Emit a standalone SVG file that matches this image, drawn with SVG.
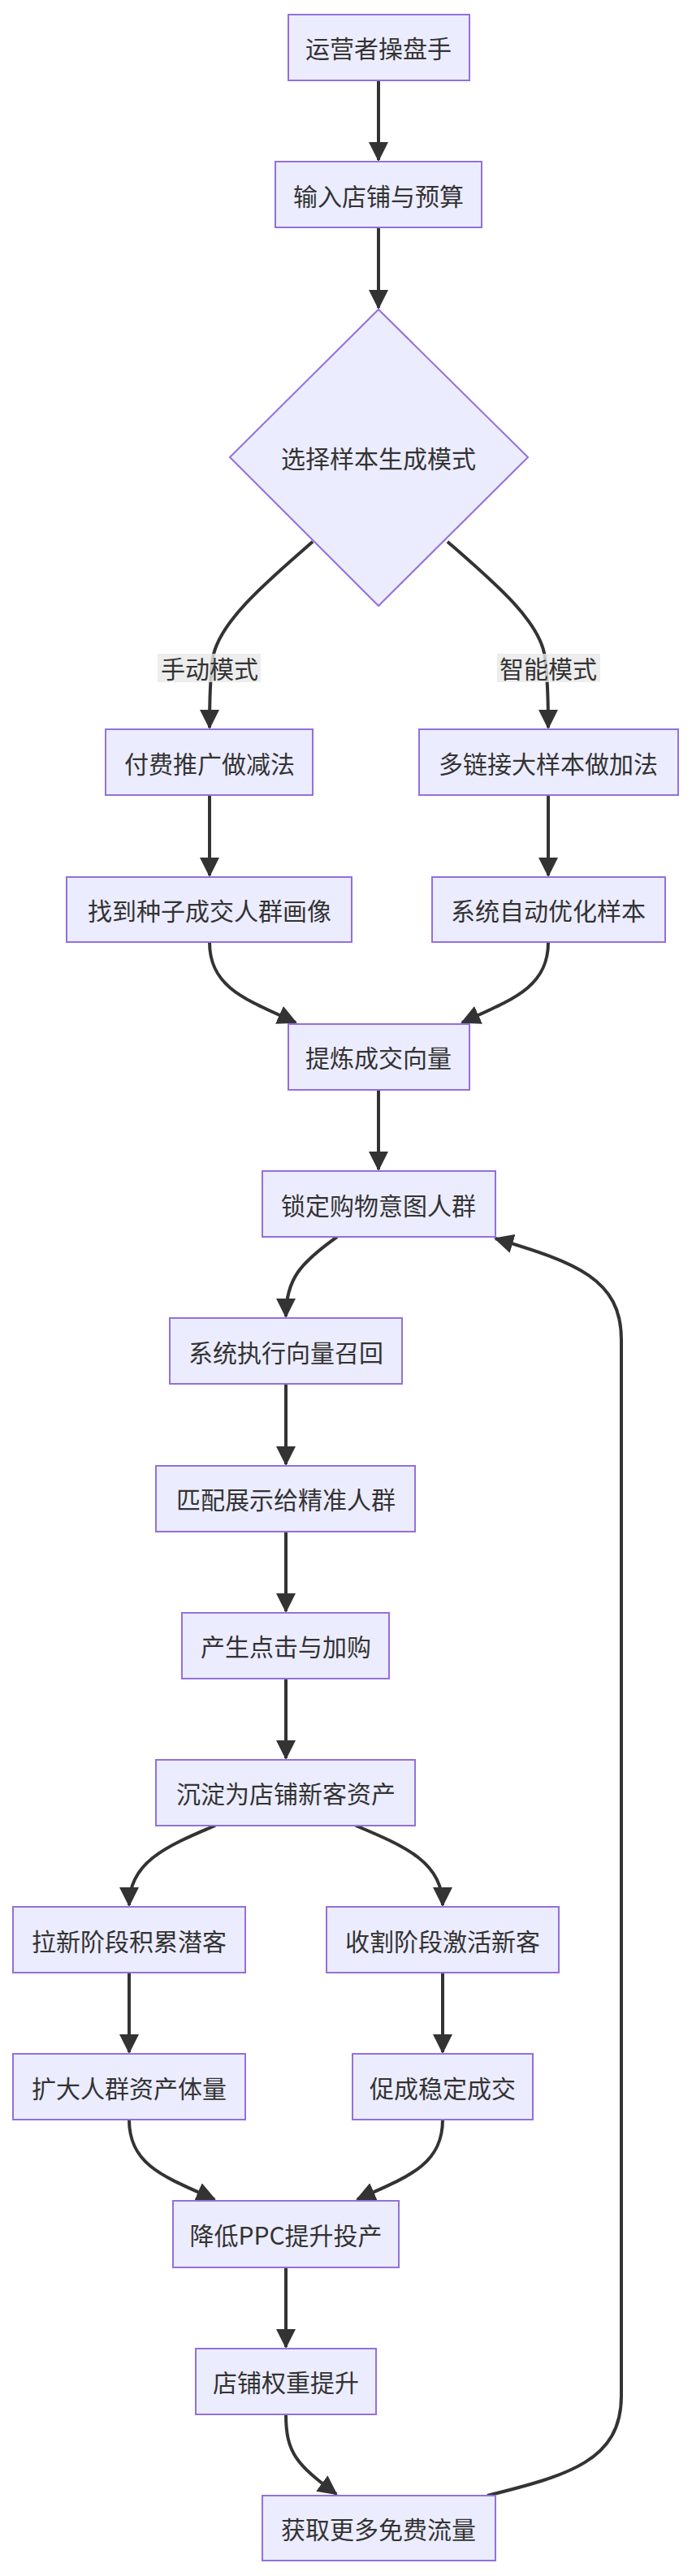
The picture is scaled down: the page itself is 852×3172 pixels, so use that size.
<svg xmlns="http://www.w3.org/2000/svg" width="852" height="3172" viewBox="0 0 852 3172">
<style>
.n{fill:#ECECFF;stroke:#9370DB;stroke-width:2}
.t{font-family:"Noto Sans CJK SC","Liberation Sans",sans-serif;font-size:30px;fill:#333;text-anchor:middle;dominant-baseline:central}
.e{fill:none;stroke:#333;stroke-width:4}
.lb{fill:#e8e8e8;opacity:0.8}
</style>
<defs>
<marker id="a" markerUnits="userSpaceOnUse" markerWidth="24" markerHeight="24" refX="22" refY="12" orient="auto">
<path d="M0,0 L24,12 L0,24 z" fill="#333"/>
</marker>
</defs>
<rect width="852" height="3172" fill="#fff"/>
<g id="edges">
<path class="e" marker-end="url(#a)" d="M466,99 L466,197"/>
<path class="e" marker-end="url(#a)" d="M466,280 L466,379"/>
<path class="e" marker-end="url(#a)" d="M385,667 C330,715 270,765 262,810 Q258,840 258,896"/>
<path class="e" marker-end="url(#a)" d="M551,667 C606,715 666,765 671,810 Q675,840 675,896"/>
<path class="e" marker-end="url(#a)" d="M258,979 L258,1078"/>
<path class="e" marker-end="url(#a)" d="M675,979 L675,1078"/>
<path class="e" marker-end="url(#a)" d="M258,1160 C258,1215 300,1230 364,1259"/>
<path class="e" marker-end="url(#a)" d="M675,1160 C675,1215 633,1230 569,1259"/>
<path class="e" marker-end="url(#a)" d="M466,1342 L466,1440"/>
<path class="e" marker-end="url(#a)" d="M415,1523 C370,1555 352,1575 352,1621"/>
<path class="e" marker-end="url(#a)" d="M352,1704 L352,1803"/>
<path class="e" marker-end="url(#a)" d="M352,1886 L352,1984"/>
<path class="e" marker-end="url(#a)" d="M352,2067 L352,2165"/>
<path class="e" marker-end="url(#a)" d="M265,2248 C200,2275 159,2295 159,2346"/>
<path class="e" marker-end="url(#a)" d="M438,2248 C503,2275 545,2295 545,2346"/>
<path class="e" marker-end="url(#a)" d="M159,2429 L159,2527"/>
<path class="e" marker-end="url(#a)" d="M545,2429 L545,2527"/>
<path class="e" marker-end="url(#a)" d="M159,2610 C159,2665 200,2680 264,2708"/>
<path class="e" marker-end="url(#a)" d="M545,2610 C545,2665 504,2680 440,2708"/>
<path class="e" marker-end="url(#a)" d="M352,2792 L352,2890"/>
<path class="e" marker-end="url(#a)" d="M352,2973 C352,3020 365,3035 414,3071"/>
<path class="e" marker-end="url(#a)" d="M600,3073 C700,3048 765,3030 765,2950 L765,1650 C765,1575 710,1555 610,1525"/>
<rect class="lb" x="194" y="805" width="127" height="35"/>
<text class="t" x="258" y="822">手动模式</text>
<rect class="lb" x="612" y="805" width="127" height="35"/>
<text class="t" x="675" y="822">智能模式</text>
</g>
<g id="n1"><rect class="n" x="355" y="18" width="223" height="81"/><text class="t" x="466" y="58">运营者操盘手</text></g>
<g id="n2"><rect class="n" x="339" y="199" width="254" height="81"/><text class="t" x="466" y="240">输入店铺与预算</text></g>
<g id="n3"><polygon class="n" points="466,381 650,563 466,746 283,563"/><text class="t" x="466" y="563">选择样本生成模式</text></g>
<g id="n4"><rect class="n" x="130" y="898" width="255" height="81"/><text class="t" x="258" y="939">付费推广做减法</text></g>
<g id="n5"><rect class="n" x="516" y="898" width="319" height="81"/><text class="t" x="675" y="939">多链接大样本做加法</text></g>
<g id="n6"><rect class="n" x="82" y="1080" width="351" height="80"/><text class="t" x="258" y="1120">找到种子成交人群画像</text></g>
<g id="n7"><rect class="n" x="532" y="1080" width="287" height="80"/><text class="t" x="675" y="1120">系统自动优化样本</text></g>
<g id="n8"><rect class="n" x="355" y="1261" width="223" height="81"/><text class="t" x="466" y="1301">提炼成交向量</text></g>
<g id="n9"><rect class="n" x="323" y="1442" width="287" height="81"/><text class="t" x="466" y="1483">锁定购物意图人群</text></g>
<g id="n10"><rect class="n" x="209" y="1623" width="286" height="81"/><text class="t" x="352" y="1664">系统执行向量召回</text></g>
<g id="n11"><rect class="n" x="192" y="1805" width="319" height="81"/><text class="t" x="352" y="1845">匹配展示给精准人群</text></g>
<g id="n12"><rect class="n" x="224" y="1986" width="255" height="81"/><text class="t" x="352" y="2026">产生点击与加购</text></g>
<g id="n13"><rect class="n" x="192" y="2167" width="319" height="81"/><text class="t" x="352" y="2207">沉淀为店铺新客资产</text></g>
<g id="n14"><rect class="n" x="16" y="2348" width="286" height="81"/><text class="t" x="159" y="2389">拉新阶段积累潜客</text></g>
<g id="n15"><rect class="n" x="402" y="2348" width="286" height="81"/><text class="t" x="545" y="2389">收割阶段激活新客</text></g>
<g id="n16"><rect class="n" x="16" y="2529" width="286" height="81"/><text class="t" x="159" y="2570">扩大人群资产体量</text></g>
<g id="n17"><rect class="n" x="434" y="2529" width="222" height="81"/><text class="t" x="545" y="2570">促成稳定成交</text></g>
<g id="n18"><rect class="n" x="213" y="2710" width="278" height="82"/><text class="t" x="352" y="2751">降低PPC提升投产</text></g>
<g id="n19"><rect class="n" x="241" y="2892" width="222" height="81"/><text class="t" x="352" y="2932">店铺权重提升</text></g>
<g id="n20"><rect class="n" x="323" y="3073" width="287" height="80"/><text class="t" x="466" y="3113">获取更多免费流量</text></g>
</svg>
